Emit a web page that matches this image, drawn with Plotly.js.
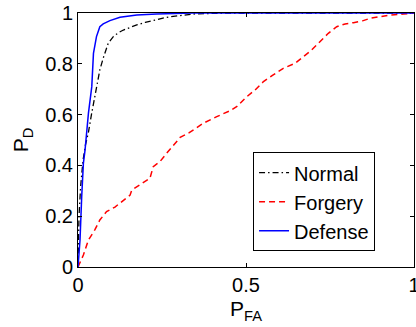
<!DOCTYPE html>
<html>
<head>
<meta charset="utf-8">
<script src="https://cdn.plot.ly/plotly-3.0.1.min.js"></script>
<style>html,body{margin:0;padding:0;background:#fff;}#plot{width:416px;height:327px;}</style>
</head>
<body>
<div id="plot"></div>
<script>
// Normal (black dash-dot)
const normalPFA = [0, 0.003, 0.008, 0.015, 0.022, 0.031, 0.040, 0.048, 0.055, 0.065, 0.075, 0.090, 0.105, 0.120, 0.135, 0.155, 0.175, 0.200, 0.224, 0.250, 0.274, 0.310, 0.343, 0.420, 0.500, 1.0];
const normalPD  = [0, 0.20, 0.32, 0.42, 0.48, 0.53, 0.60, 0.66, 0.71, 0.776, 0.822, 0.881, 0.907, 0.922, 0.933, 0.944, 0.953, 0.963, 0.972, 0.979, 0.985, 0.991, 0.996, 0.999, 1.0, 1.0];
// Forgery (red dashed)
const forgeryPFA = [0, 0.016, 0.031, 0.050, 0.065, 0.085, 0.110, 0.135, 0.155, 0.160, 0.190, 0.214, 0.224, 0.244, 0.264, 0.284, 0.304, 0.330, 0.373, 0.413, 0.452, 0.472, 0.502, 0.527, 0.552, 0.581, 0.611, 0.646, 0.671, 0.695, 0.720, 0.745, 0.770, 0.795, 0.820, 0.849, 0.869, 0.899, 0.929, 0.968, 1.0];
const forgeryPD  = [0, 0.047, 0.106, 0.146, 0.185, 0.218, 0.236, 0.261, 0.283, 0.303, 0.330, 0.349, 0.395, 0.415, 0.448, 0.480, 0.510, 0.528, 0.566, 0.592, 0.615, 0.631, 0.670, 0.697, 0.730, 0.756, 0.782, 0.802, 0.828, 0.854, 0.887, 0.920, 0.946, 0.957, 0.962, 0.970, 0.979, 0.985, 0.992, 0.996, 1.0];
// Defense (blue solid)
const defensePFA = [0, 0.006, 0.011, 0.016, 0.021, 0.026, 0.031, 0.041, 0.046, 0.055, 0.065, 0.075, 0.095, 0.125, 0.175, 0.234, 0.340, 1.0];
const defensePD  = [0, 0.106, 0.277, 0.408, 0.461, 0.539, 0.605, 0.710, 0.841, 0.907, 0.946, 0.957, 0.970, 0.983, 0.992, 0.996, 1.0, 1.0];

const xTickVals = [0, 0.5, 1];
const xTickText = ['0', '0.5', '1'];
const yTickVals = [0, 0.2, 0.4, 0.6, 0.8, 1];
const yTickText = ['0', '0.2', '0.4', '0.6', '0.8', '1'];

const font = 'Liberation Sans, Arial, Helvetica, sans-serif';

const traces = [
  {x: normalPFA, y: normalPD, name: 'Normal', mode: 'lines', line: {color: '#000000', width: 1.3, dash: '6px,3px,1.5px,3px'}},
  {x: forgeryPFA, y: forgeryPD, name: 'Forgery', mode: 'lines', line: {color: '#ff0000', width: 1.5, dash: '6px,4px'}},
  {x: defensePFA, y: defensePD, name: 'Defense', mode: 'lines', line: {color: '#0000ff', width: 1.5}}
];

const axisCommon = {
  showgrid: false, zeroline: false, showline: true, linecolor: '#000', linewidth: 1,
  mirror: 'ticks', ticks: 'inside', ticklen: 4, tickcolor: '#000', tickwidth: 1,
  ticklabeloverflow: 'allow',
  tickfont: {family: font, size: 20, color: '#000'}
};

const layout = {
  width: 416, height: 327,
  margin: {l: 78, r: 2, t: 13, b: 60},
  paper_bgcolor: '#fff', plot_bgcolor: '#fff',
  font: {family: font, color: '#000'},
  showlegend: true,
  xaxis: Object.assign({}, axisCommon, {
    range: [0, 1], tickmode: 'array', tickvals: xTickVals, ticktext: xTickText,
    title: {text: 'P<sub>FA</sub>', font: {family: font, size: 21, color: '#000'}, standoff: 6}
  }),
  yaxis: Object.assign({}, axisCommon, {
    range: [0, 1], tickmode: 'array', tickvals: yTickVals, ticktext: yTickText,
    title: {text: 'P<sub>D</sub>', font: {family: font, size: 21, color: '#000'}, standoff: 10}
  }),
  legend: {
    x: 0.521, y: 0.452, xanchor: 'left', yanchor: 'top',
    bgcolor: '#fff', bordercolor: '#000', borderwidth: 1,
    font: {family: font, size: 20, color: '#000'},
    itemwidth: 30
  }
};

Plotly.newPlot('plot', traces, layout, {displayModeBar: false, staticPlot: true});
</script>
</body>
</html>
